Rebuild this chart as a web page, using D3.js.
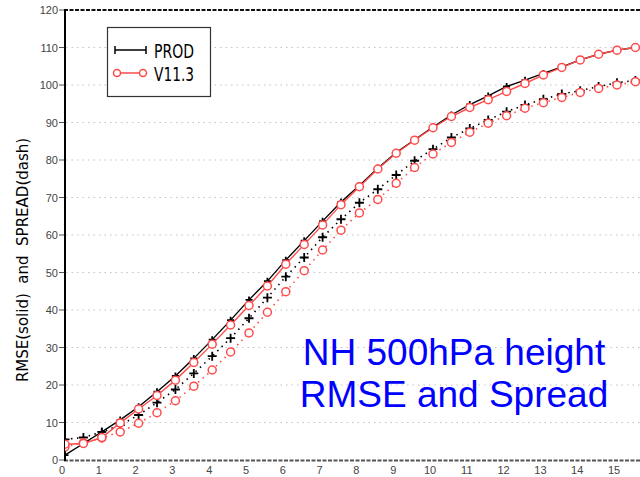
<!DOCTYPE html>
<html><head><meta charset="utf-8">
<script src="https://cdn.jsdelivr.net/npm/d3@7"></script>
<style>html,body{margin:0;padding:0;background:#fff;overflow:hidden}</style>
</head><body>
<svg id="c" width="640" height="477"></svg>
<script>
const days = d3.range(0, 16, 0.5);
const prodRmse = [1.3,4.4,7.5,10.7,14.2,18.2,22.4,27.1,32.1,37.3,42.7,47.7,53.3,58.5,63.7,68.8,73.2,77.8,82.0,85.4,88.8,92.0,94.8,97.1,99.6,101.3,103.1,104.8,106.7,108.2,109.3,110.0];
const v113Rmse = [4.2,4.4,6.0,9.9,13.6,17.2,21.3,26.0,30.9,36.0,41.2,46.4,52.2,57.5,62.7,68.1,72.9,77.6,81.8,85.3,88.6,91.6,94.0,96.1,98.3,100.4,102.7,104.7,106.7,108.2,109.3,110.0];
const prodSpread = [5.5,6.0,7.5,9.3,12.0,15.3,18.8,23.1,27.7,32.5,37.8,43.3,48.9,54.0,59.4,64.2,68.6,72.2,76.0,79.8,82.9,86.0,88.4,90.7,92.9,94.7,96.2,97.6,98.5,99.6,100.6,101.2];
const v113Spread = [3.5,4.6,5.9,7.5,9.8,12.6,15.8,19.7,24.0,28.8,33.9,39.4,44.9,50.5,56.0,61.3,65.9,69.5,73.8,78.0,81.6,84.7,87.4,89.8,91.8,93.8,95.3,96.7,98.0,99.1,100.0,100.9];
const xTicks = d3.range(0, 16, 1);
const yTicks = d3.range(0, 121, 10);
const legendNames = ["PROD", "V11.3"];
const titleLines = ["NH 500hPa height", "RMSE and Spread"];
const yTitle = "RMSE(solid)  and  SPREAD(dash)";

const RED = "#ff4a4a";
const svg = d3.select("#c");
const x = d3.scaleLinear().domain([0, 16]).range([65, 653.8]);
const y = d3.scaleLinear().domain([0, 120]).range([460, 10]);

svg.append("defs").append("clipPath").attr("id","clip")
  .append("rect").attr("x",65).attr("y",0).attr("width",575).attr("height",470);

// grid
svg.append("g").selectAll("line").data(yTicks.filter(v => v > 0 && v < 120)).join("line")
  .attr("x1", 66).attr("x2", 640).attr("y1", d => y(d)).attr("y2", d => y(d))
  .attr("stroke", "#c4c4c4").attr("stroke-width", 1.2).attr("stroke-dasharray", "1.5,4");

// y axis ticks + labels
const ya = svg.append("g");
ya.selectAll("line").data(yTicks).join("line")
  .attr("x1", 59).attr("x2", 65).attr("y1", d => y(d)).attr("y2", d => y(d))
  .attr("stroke", "#555").attr("stroke-width", 1);
ya.selectAll("text").data(yTicks).join("text")
  .attr("x", 58).attr("y", d => y(d) + 4).attr("text-anchor", "end")
  .attr("font-family", "Liberation Sans, Arial, sans-serif").attr("font-size", 11)
  .attr("fill", "#444").text(d => d);

// x labels
svg.append("g").selectAll("text").data(xTicks).join("text")
  .attr("x", d => x(d) - 3).attr("y", 474).attr("text-anchor", "middle")
  .attr("font-family", "Liberation Sans, Arial, sans-serif").attr("font-size", 11)
  .attr("fill", "#444").text(d => d);

// frame
svg.append("line").attr("x1", 64).attr("x2", 640).attr("y1", 10).attr("y2", 10)
  .attr("stroke", "#111").attr("stroke-width", 2).attr("stroke-dasharray", "4,1.5");
svg.append("line").attr("x1", 64).attr("x2", 640).attr("y1", 460.5).attr("y2", 460.5)
  .attr("stroke", "#555").attr("stroke-width", 2).attr("stroke-dasharray", "4,1.5");
svg.append("line").attr("x1", 65).attr("x2", 65).attr("y1", 9).attr("y2", 461)
  .attr("stroke", "#000").attr("stroke-width", 2);

// y title
svg.append("text").attr("transform", "translate(28,260) rotate(-90)")
  .attr("text-anchor", "middle").attr("font-family", "DejaVu Sans, sans-serif")
  .attr("font-size", 15).attr("fill", "#000").style("white-space","pre").text(yTitle);

// series
const plot = svg.append("g").attr("clip-path", "url(#clip)");
const line = d3.line().x((d, i) => x(days[i])).y(d => y(d));
const plus = (g, data, size, w) => {
  g.selectAll("path.p").data(data).join("path").attr("class","p")
    .attr("d", (d, i) => { const cx = x(days[i]), cy = y(d);
      return `M${cx-size},${cy}H${cx+size}M${cx},${cy-size}V${cy+size}`; })
    .attr("stroke", "#000").attr("stroke-width", w).attr("fill", "none");
};
const circ = (g, data) => {
  g.selectAll("circle").data(data).join("circle")
    .attr("cx", (d, i) => x(days[i])).attr("cy", d => y(d)).attr("r", 4)
    .attr("fill", "#fff").attr("stroke", RED).attr("stroke-width", 1.5);
};
// spreads (dotted)
plot.append("path").datum(prodSpread).attr("d", line).attr("fill","none")
  .attr("stroke", "#000").attr("stroke-width", 1.6).attr("stroke-dasharray", "1.5,4.5");
plot.append("path").datum(v113Spread).attr("d", line).attr("fill","none")
  .attr("stroke", RED).attr("stroke-width", 1.6).attr("stroke-dasharray", "1.5,4.5");
plus(plot.append("g"), prodSpread, 4.5, 1.8);
circ(plot.append("g"), v113Spread);
// rmse (solid)
plot.append("path").datum(prodRmse).attr("d", line).attr("fill","none")
  .attr("stroke", "#000").attr("stroke-width", 1.4);
plus(plot.append("g"), prodRmse, 3.5, 1.8);
plot.append("path").datum(v113Rmse).attr("d", line).attr("fill","none")
  .attr("stroke", RED).attr("stroke-width", 1.4);
circ(plot.append("g"), v113Rmse);

// legend
const lg = svg.append("g");
lg.append("rect").attr("x", 107.5).attr("y", 27.5).attr("width", 103).attr("height", 69)
  .attr("fill", "#fff").attr("stroke", "#333").attr("stroke-width", 1.2);
lg.append("path").attr("d", "M115,50H146M115,46V54M146,46V54").attr("stroke","#000").attr("stroke-width",1.5);
lg.append("line").attr("x1",117).attr("x2",143).attr("y1",73).attr("y2",73).attr("stroke",RED).attr("stroke-width",1.5);
[117,143].forEach(cx => lg.append("circle").attr("cx",cx).attr("cy",73).attr("r",3.5)
  .attr("fill","#fff").attr("stroke",RED).attr("stroke-width",1.5));
legendNames.forEach((n, i) => lg.append("text").attr("x", 154).attr("y", 58 + i * 23)
  .attr("font-family", "DejaVu Sans, sans-serif").attr("font-size", 20)
  .attr("textLength", 40).attr("lengthAdjust", "spacingAndGlyphs").attr("fill","#000").text(n));

// annotation
titleLines.forEach((t, i) => svg.append("text").attr("x", 454).attr("y", 365 + i * 42)
  .attr("text-anchor", "middle").attr("font-family", "Liberation Sans, Arial, sans-serif")
  .attr("font-size", 37).attr("fill", "#0000ff").text(t));
</script>
</body></html>
